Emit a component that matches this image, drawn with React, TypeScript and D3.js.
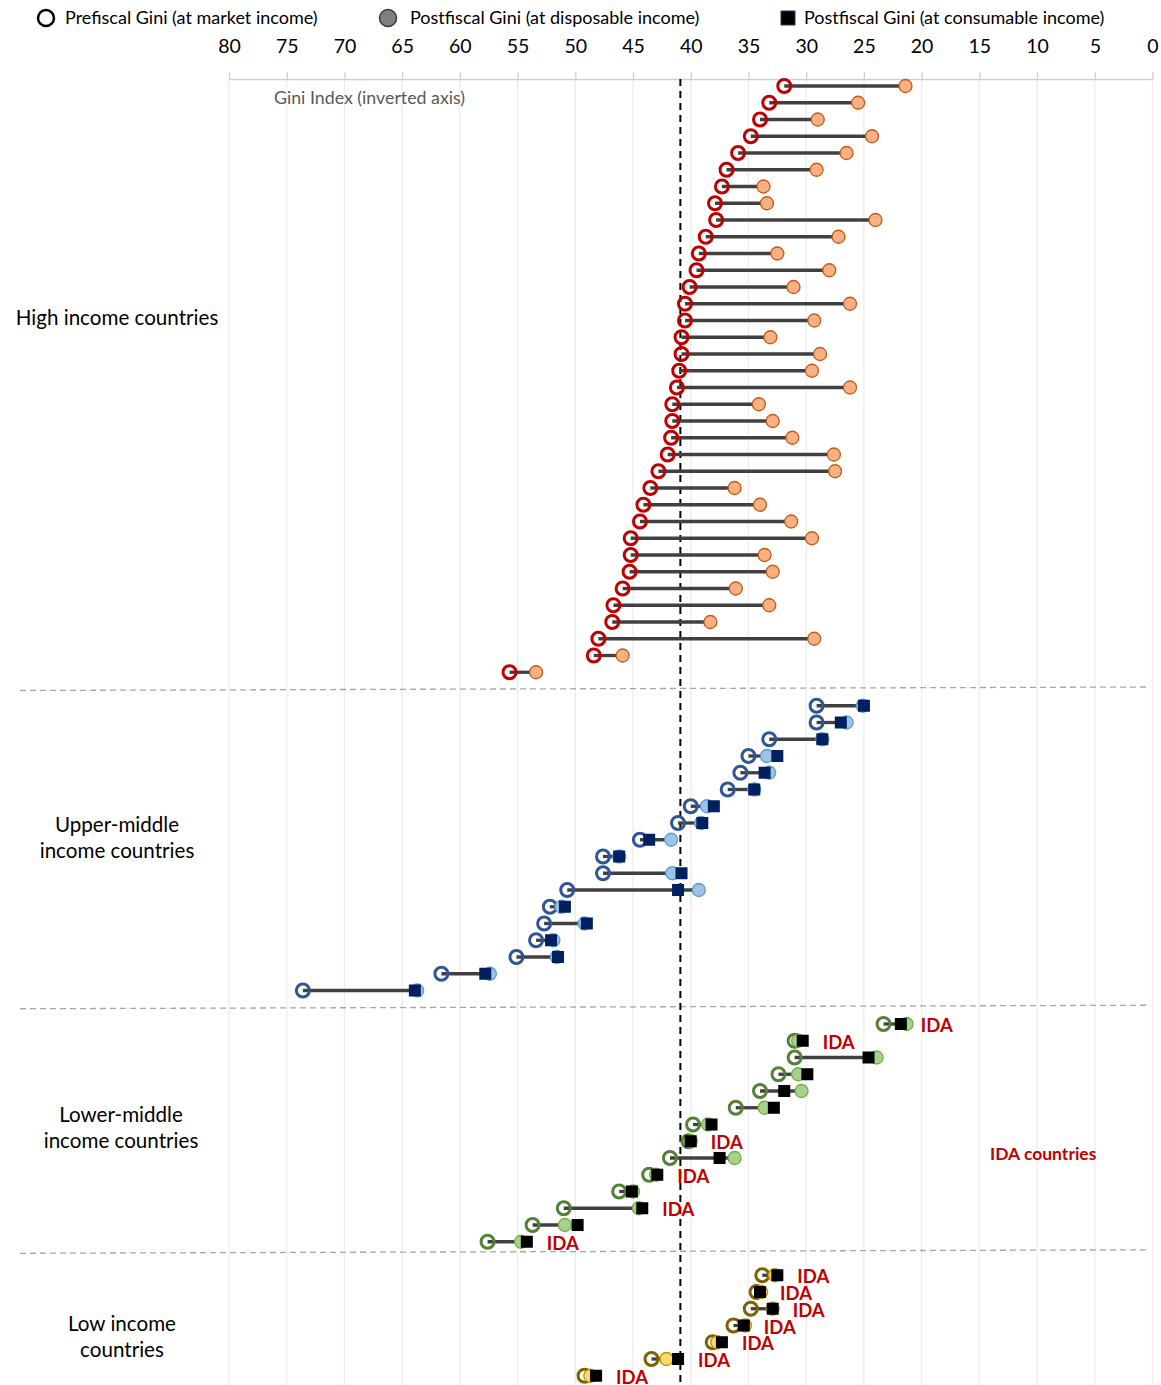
import React, { useEffect, useRef } from 'react';
import * as d3 from 'd3';

// Gini values (one entry per country row, top to bottom)
const hiPre = [31.9, 33.2, 34.0, 34.8, 35.9, 36.9, 37.3, 37.9, 37.8, 38.7, 39.3, 39.5, 40.1, 40.5, 40.5, 40.8, 40.8, 41.0, 41.2, 41.6, 41.6, 41.7, 42.0, 42.8, 43.5, 44.1, 44.4, 45.2, 45.2, 45.3, 45.9, 46.7, 46.8, 48.0, 48.4, 55.7];
const hiDisp = [21.4, 25.5, 29.0, 24.3, 26.5, 29.1, 33.7, 33.4, 24.0, 27.2, 32.5, 28.0, 31.1, 26.2, 29.3, 33.1, 28.8, 29.5, 26.2, 34.1, 32.9, 31.2, 27.6, 27.5, 36.2, 34.0, 31.3, 29.5, 33.6, 32.9, 36.1, 33.2, 38.3, 29.3, 45.9, 53.4];

const umiPre = [29.1, 29.1, 33.2, 35.0, 35.7, 36.8, 40.0, 41.1, 44.4, 47.6, 47.6, 50.7, 52.2, 52.7, 53.4, 55.1, 61.6, 73.6];
const umiDisp = [25.1, 26.5, 28.6, 33.4, 33.2, 34.5, 38.6, 39.1, 41.7, 46.2, 41.6, 39.3, 51.2, 49.2, 51.9, 51.6, 57.4, 63.7];
const umiCons = [25.0, 27.0, 28.6, 32.5, 33.6, 34.5, 38.0, 39.0, 43.6, 46.2, 40.8, 41.1, 50.9, 49.0, 52.1, 51.5, 57.8, 63.9];

const lmiPre = [23.3, 31.0, 31.0, 32.4, 34.0, 36.1, 39.8, 40.2, 41.8, 43.6, 46.2, 51.0, 53.7, 57.6];
const lmiDisp = [21.3, 30.7, 23.9, 30.7, 30.4, 33.6, 38.5, 40.0, 36.2, 43.0, 45.0, 44.5, 50.9, 54.7];
const lmiCons = [21.8, 30.3, 24.6, 29.9, 31.9, 32.8, 38.2, 40.0, 37.5, 42.9, 45.1, 44.2, 49.8, 54.2];
const lmiIda = [true, true, false, false, false, false, false, true, false, true, false, true, false, true];

const liPre = [33.8, 34.3, 34.8, 36.3, 38.1, 43.4, 49.2];
const liDisp = [32.7, 33.9, 32.9, 35.3, 37.7, 42.1, 48.7];
const liCons = [32.5, 34.0, 32.9, 35.4, 37.3, 41.1, 48.2];
const liIda = [true, true, true, true, true, true, true];

const groupNames = [['High income countries'], ['Upper-middle', 'income countries'], ['Lower-middle', 'income countries'], ['Low income', 'countries']];
const xTicks = [80, 75, 70, 65, 60, 55, 50, 45, 40, 35, 30, 25, 20, 15, 10, 5, 0];
const averageGini = 40.9;

const legendItems = ['Prefiscal Gini (at market income)', 'Postfiscal Gini (at disposable income)', 'Postfiscal Gini (at consumable income)'];

const FONT = 'Lato, "Open Sans", sans-serif';

interface Group {
  pre: number[];
  disp: number[];
  cons: number[] | null;
  ida: boolean[] | null;
  preColor: string;
  dispFill: string;
  dispStroke: string;
  consFill: string;
}

const groups: Group[] = [
  { pre: hiPre, disp: hiDisp, cons: null, ida: null, preColor: '#c00000', dispFill: '#f8b185', dispStroke: '#c55a11', consFill: '#000' },
  { pre: umiPre, disp: umiDisp, cons: umiCons, ida: null, preColor: '#2f5597', dispFill: '#9dc3e6', dispStroke: '#5b9bd5', consFill: '#002060' },
  { pre: lmiPre, disp: lmiDisp, cons: lmiCons, ida: lmiIda, preColor: '#538135', dispFill: '#a9d18e', dispStroke: '#70ad47', consFill: '#000' },
  { pre: liPre, disp: liDisp, cons: liCons, ida: liIda, preColor: '#7f6000', dispFill: '#ffd966', dispStroke: '#bf9000', consFill: '#000' },
];

// label placement for the group names (layout only)
const groupLabelPos = [
  { x: 117, y: 318 },
  { x: 117, y: 825 },
  { x: 121, y: 1115 },
  { x: 122, y: 1324 },
];
const separatorSlots = [36, 55, 69.6];

const W = 1161;
const H = 1385;

const App: React.FC = () => {
  const svgRef = useRef<SVGSVGElement | null>(null);

  useEffect(() => {
    const svg = d3.select(svgRef.current);
    svg.selectAll('*').remove();

    // slot index per row, with one empty slot between groups
    const rows: { slot: number; g: Group; i: number }[] = [];
    let slot = 0;
    groups.forEach(g => {
      g.pre.forEach((_, i) => rows.push({ slot: slot + i, g, i }));
      slot += g.pre.length + 1;
    });
    const lastSlot = slot - 2;

    const x = d3.scaleLinear().domain([80, 0]).range([229, 1152.5]);
    const y = d3.scaleLinear().domain([0, lastSlot]).range([86, 1375.75]);
    const axisY = 79;

    // gridlines
    svg.append('g')
      .selectAll('line')
      .data(xTicks)
      .join('line')
      .attr('x1', d => x(d)).attr('x2', d => x(d))
      .attr('y1', axisY).attr('y2', H)
      .attr('stroke', '#ececec')
      .attr('stroke-width', 1.3);

    // top axis
    const axis = svg.append('g')
      .attr('transform', `translate(0,${axisY})`)
      .call(d3.axisTop(x).tickValues(xTicks).tickSize(7).tickSizeOuter(0).tickPadding(19).tickFormat(d3.format('d')));
    axis.select('.domain').attr('stroke', '#d0d0d0').attr('stroke-width', 1.5);
    axis.selectAll('.tick line').attr('stroke', '#d0d0d0').attr('stroke-width', 1.3);
    axis.selectAll('.tick text')
      .attr('font-family', FONT)
      .attr('font-size', 19.5)
      .attr('fill', '#000');

    svg.append('text')
      .attr('x', 274).attr('y', 104)
      .attr('font-family', FONT).attr('font-size', 17.8)
      .attr('fill', '#595959')
      .text('Gini Index (inverted axis)');

    // group separators
    svg.append('g')
      .selectAll('line')
      .data(separatorSlots)
      .join('line')
      .attr('x1', 20).attr('x2', 1148)
      .attr('y1', d => y(d) + 1.5).attr('y2', d => y(d) - 2)
      .attr('stroke', '#a6a6a6')
      .attr('stroke-width', 1.3)
      .attr('stroke-dasharray', '6,4');

    // average line
    svg.append('line')
      .attr('x1', x(averageGini)).attr('x2', x(averageGini))
      .attr('y1', axisY).attr('y2', H)
      .attr('stroke', '#000')
      .attr('stroke-width', 2)
      .attr('stroke-dasharray', '7,5');

    // group labels
    groupNames.forEach((lines, gi) => {
      const t = svg.append('text')
        .attr('font-family', FONT).attr('font-size', 20.6)
        .attr('fill', '#000')
        .attr('text-anchor', 'middle');
      lines.forEach((ln, li) => {
        t.append('tspan')
          .attr('x', groupLabelPos[gi].x)
          .attr('y', groupLabelPos[gi].y + 7 + li * 26)
          .text(ln);
      });
    });

    // connectors
    svg.append('g')
      .selectAll('line')
      .data(rows)
      .join('line')
      .attr('x1', d => x(d.g.pre[d.i]))
      .attr('x2', d => x(d.g.disp[d.i]))
      .attr('y1', d => y(d.slot)).attr('y2', d => y(d.slot))
      .attr('stroke', '#404040')
      .attr('stroke-width', 3.3);

    // prefiscal circles
    svg.append('g')
      .selectAll('circle')
      .data(rows)
      .join('circle')
      .attr('cx', d => x(d.g.pre[d.i]))
      .attr('cy', d => y(d.slot))
      .attr('r', 6.5)
      .attr('fill', 'none')
      .attr('stroke', d => d.g.preColor)
      .attr('stroke-width', 3);

    // disposable circles
    svg.append('g')
      .selectAll('circle')
      .data(rows)
      .join('circle')
      .attr('cx', d => x(d.g.disp[d.i]))
      .attr('cy', d => y(d.slot))
      .attr('r', 6.5)
      .attr('fill', d => d.g.dispFill)
      .attr('stroke', d => d.g.dispStroke)
      .attr('stroke-width', 1.3);

    // consumable squares
    const consRows = rows.filter(d => d.g.cons);
    svg.append('g')
      .selectAll('rect')
      .data(consRows)
      .join('rect')
      .attr('x', d => x(d.g.cons![d.i]) - 6)
      .attr('y', d => y(d.slot) - 6)
      .attr('width', 12).attr('height', 12)
      .attr('fill', d => d.g.consFill);

    // IDA labels
    const idaRows = rows.filter(d => d.g.ida && d.g.ida[d.i]);
    svg.append('g')
      .selectAll('text')
      .data(idaRows)
      .join('text')
      .attr('x', d => x(d.g.cons![d.i]) + 20)
      .attr('y', d => y(d.slot) + 8)
      .attr('font-family', FONT)
      .attr('font-weight', 'bold')
      .attr('font-size', 18.5)
      .attr('fill', '#c00000')
      .text('IDA');

    svg.append('text')
      .attr('x', 990).attr('y', 1160)
      .attr('font-family', FONT)
      .attr('font-weight', 'bold')
      .attr('font-size', 17.5)
      .attr('fill', '#c00000')
      .text('IDA countries');

    // legend
    const lg = svg.append('g').attr('font-family', FONT).attr('font-size', 18).attr('fill', '#000');
    lg.append('circle').attr('cx', 46).attr('cy', 18).attr('r', 8).attr('fill', '#fff').attr('stroke', '#000').attr('stroke-width', 2.5);
    lg.append('circle').attr('cx', 388).attr('cy', 18).attr('r', 8.5).attr('fill', '#7f7f7f').attr('stroke', '#3a3a3a').attr('stroke-width', 1.5);
    lg.append('rect').attr('x', 781).attr('y', 11).attr('width', 14).attr('height', 14).attr('fill', '#000').attr('stroke', '#1f3864').attr('stroke-width', 1);
    const legendX = [65, 410, 804];
    legendItems.forEach((t, i) => {
      lg.append('text').attr('x', legendX[i]).attr('y', 24).text(t);
    });
  }, []);

  return (
    <svg ref={svgRef} width={W} height={H} style={{ position: 'absolute', left: 0, top: 0, background: '#fff' }}></svg>
  );
};

export default App;
